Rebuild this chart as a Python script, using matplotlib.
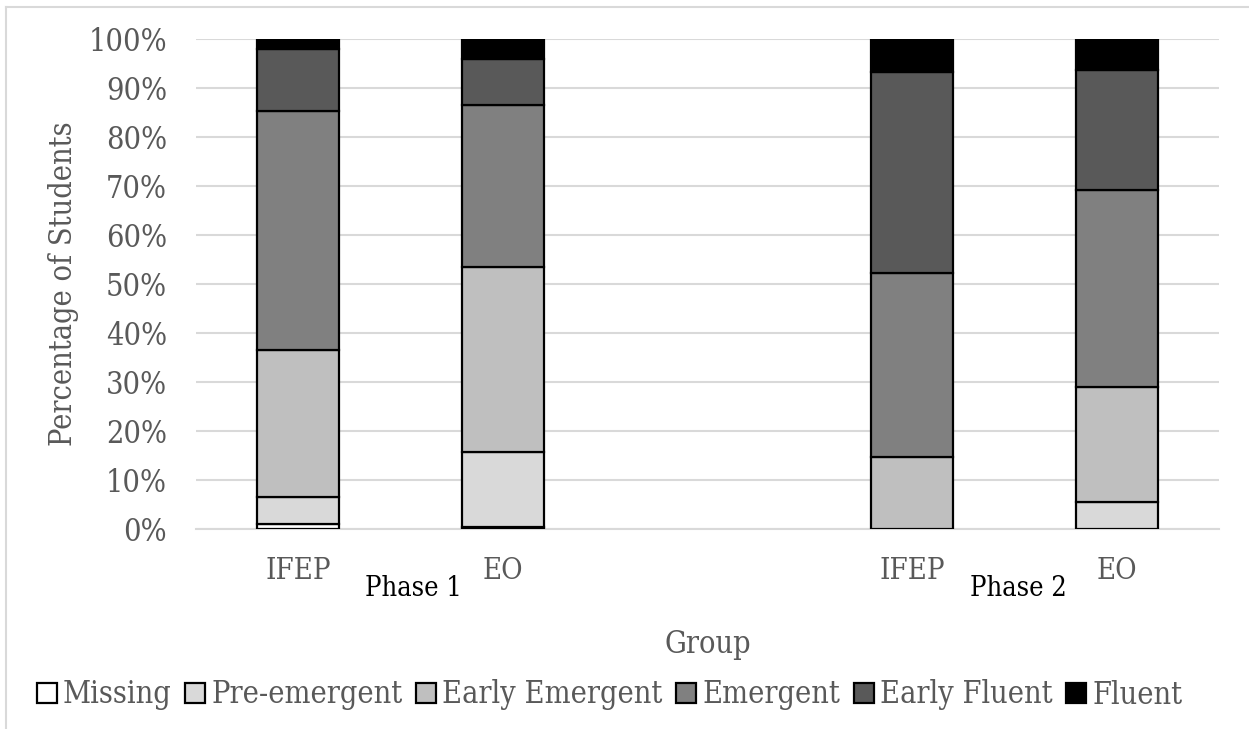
import numpy as np
import matplotlib
matplotlib.use("Agg")
import matplotlib.pyplot as plt
from matplotlib.lines import Line2D

# groups: two phases, IFEP and EO in each
groups = ["IFEP", "EO", "IFEP", "EO"]
phases = ["Phase 1", "Phase 2"]

# percent of students in each level (bottom to top)
levels = ["Missing", "Pre-emergent", "Early Emergent", "Emergent", "Early Fluent", "Fluent"]
missing = [1.0, 0.5, 0.0, 0.0]
pre_emergent = [5.6, 15.2, 0.0, 5.6]
early_emergent = [30.0, 37.8, 14.6, 23.4]
emergent = [48.8, 33.0, 37.7, 40.2]
early_fluent = [12.6, 9.5, 41.0, 24.5]
fluent = [2.0, 4.0, 6.7, 6.3]

colors = ["#ffffff", "#d9d9d9", "#bfbfbf", "#808080", "#595959", "#000000"]
grey = "#595959"
font = "DejaVu Serif"
stretch = "condensed"


def main():
    series = [missing, pre_emergent, early_emergent, emergent, early_fluent, fluent]

    fig = plt.figure(figsize=(12.49, 7.29), dpi=100)
    ax = fig.add_axes([0.157, 0.2743, 0.819, 0.6722])

    # leave one empty slot between the phases
    x = np.array([0, 1, 3, 4])
    bottom = np.zeros(len(groups))
    for name, vals, c in zip(levels, series, colors):
        ax.bar(x, vals, width=0.4, bottom=bottom, color=c, edgecolor="black",
               linewidth=1.6, label=name, zorder=3)
        bottom += np.array(vals)

    ax.set_xlim(-0.5, 4.5)
    ax.set_ylim(0, 100)
    ax.set_yticks(np.arange(0, 101, 10))
    ax.set_yticklabels([f"{v}%" for v in range(0, 101, 10)])
    ax.set_xticks(x)
    ax.set_xticklabels(groups)
    ax.grid(axis="y", color="#d9d9d9", linewidth=1.5, zorder=0)
    for s in ["top", "right", "left"]:
        ax.spines[s].set_visible(False)
    ax.spines["bottom"].set_color("#d9d9d9")
    ax.spines["bottom"].set_linewidth(1.5)
    ax.tick_params(length=0, labelcolor=grey, labelsize=22, pad=21)
    ax.tick_params(axis="x", labelsize=21, pad=20)
    for t in ax.get_xticklabels() + ax.get_yticklabels():
        t.set_fontfamily(font)
        t.set_fontstretch(stretch)

    ax.set_ylabel("Percentage of Students", fontsize=22, color=grey, family=font,
                  fontstretch=stretch, labelpad=7)

    # phase labels under each pair of bars
    fig.text(413 / 1249, 1 - 588 / 729, phases[0], ha="center", va="center",
             fontsize=19.5, family=font, fontstretch=stretch, color="black")
    fig.text(1018 / 1249, 1 - 588 / 729, phases[1], ha="center", va="center",
             fontsize=19.5, family=font, fontstretch=stretch, color="black")
    fig.text(708 / 1249, 1 - 644 / 729, "Group", ha="center", va="center",
             fontsize=22, family=font, fontstretch=stretch, color=grey)

    leg = fig.legend(loc="center", bbox_to_anchor=(0.488, 1 - 695 / 729), ncol=6,
                     frameon=False, handlelength=0.65, handleheight=0.65,
                     handletextpad=0.2, columnspacing=0.45,
                     prop={"family": font, "size": 22, "stretch": stretch})
    for t in leg.get_texts():
        t.set_color(grey)

    # chart area border (top and left only visible)
    fig.add_artist(Line2D([6 / 1249, 1], [1 - 7 / 729, 1 - 7 / 729], color="#d9d9d9", lw=1.5))
    fig.add_artist(Line2D([6 / 1249, 6 / 1249], [0, 1 - 7 / 729], color="#d9d9d9", lw=1.5))

    fig.savefig("out.png", dpi=100)


if __name__ == "__main__":
    main()
